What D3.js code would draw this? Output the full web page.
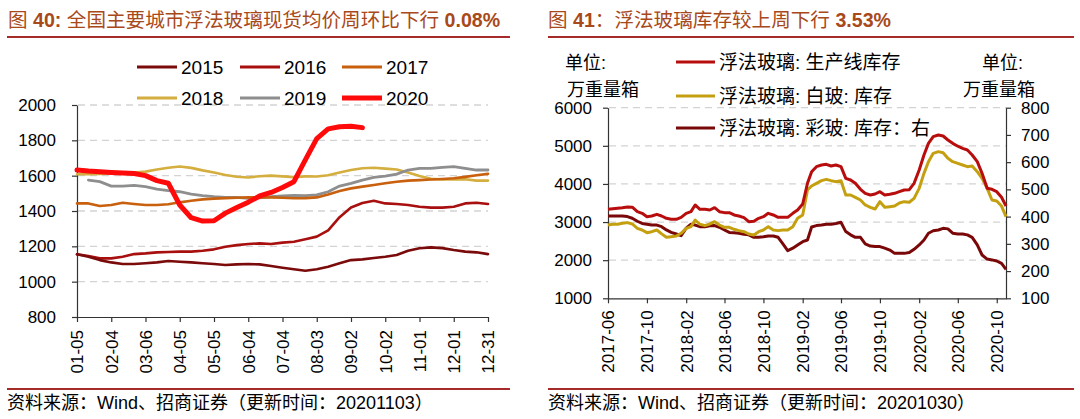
<!DOCTYPE html>
<html><head><meta charset="utf-8">
<script src="https://cdn.jsdelivr.net/npm/d3@7"></script>
<style>
body{margin:0;background:#fff;}
svg{display:block;font-family:"Liberation Sans","Noto Sans CJK SC",sans-serif;}
</style></head><body>
<svg id="c" width="1080" height="419"></svg>
<script>
// ---------- LEFT CHART DATA (day of year, every 10 days) ----------
const leftDays = [5,15,25,35,45,55,65,75,85,95,105,115,125,135,145,155,165,175,185,195,205,215,225,235,245,255,265,275,285,295,305,315,325,335,345,355,365];
const leftTickDays = [5,35,65,95,125,155,185,215,245,275,305,335,365];
const leftTickLabels = ["01-05","02-04","03-06","04-05","05-05","06-04","07-04","08-03","09-02","10-02","11-01","12-01","12-31"];
const leftYTicks = [800,1000,1200,1400,1600,1800,2000];
const yearNames = ["2015","2016","2017","2018","2019","2020"];
const price2015 = [1155,1141,1122,1109,1100,1100,1104,1109,1117,1113,1109,1104,1100,1094,1098,1100,1098,1089,1079,1070,1062,1070,1085,1104,1122,1126,1134,1141,1151,1175,1189,1194,1190,1179,1170,1166,1156];
const price2016 = [1155,1145,1132,1132,1141,1156,1160,1166,1168,1170,1170,1175,1183,1198,1207,1213,1217,1213,1221,1226,1240,1255,1290,1365,1420,1445,1458,1443,1440,1434,1424,1419,1419,1424,1443,1447,1440];
const price2017 = [1443,1443,1428,1434,1447,1440,1434,1434,1438,1449,1458,1466,1470,1473,1475,1477,1477,1477,1475,1472,1473,1477,1494,1513,1528,1538,1547,1557,1566,1572,1575,1578,1581,1585,1593,1602,1610];
const price2018 = [1608,1608,1610,1612,1615,1618,1623,1635,1645,1652,1644,1630,1618,1604,1594,1590,1597,1600,1596,1592,1596,1595,1602,1618,1632,1642,1645,1640,1635,1618,1598,1582,1578,1578,1580,1572,1572];
const price2019 = [null,1575,1566,1541,1541,1545,1538,1524,1515,1509,1496,1487,1481,1477,1477,1472,1475,1481,1485,1489,1487,1491,1509,1541,1556,1575,1590,1598,1609,1632,1641,1641,1647,1651,1641,1632,1632];
const price2020 = [1632,1626,1622,1618,1615,1612,1600,1572,1557,1434,1362,1343,1345,1388,1420,1450,1485,1505,1533,1566,1689,1810,1865,1877,1880,1872,null,null,null,null,null,null,null,null,null,null,null];

// ---------- RIGHT CHART DATA (semi-monthly) ----------
const rightDates = [
 "2017-06-01","2017-06-16","2017-07-01","2017-07-16","2017-08-01","2017-08-16","2017-09-01","2017-09-16","2017-10-01","2017-10-16","2017-11-01","2017-11-16","2017-12-01","2017-12-16",
 "2018-01-01","2018-01-16","2018-02-01","2018-02-16","2018-03-01","2018-03-16","2018-04-01","2018-04-16","2018-05-01","2018-05-16","2018-06-01","2018-06-16","2018-07-01","2018-07-16","2018-08-01","2018-08-16","2018-09-01","2018-09-16","2018-10-01","2018-10-16","2018-11-01","2018-11-16","2018-12-01","2018-12-16",
 "2019-01-01","2019-01-16","2019-02-01","2019-02-16","2019-03-01","2019-03-16","2019-04-01","2019-04-16","2019-05-01","2019-05-16","2019-06-01","2019-06-16","2019-07-01","2019-07-16","2019-08-01","2019-08-16","2019-09-01","2019-09-16","2019-10-01","2019-10-16","2019-11-01","2019-11-16","2019-12-01","2019-12-16",
 "2020-01-01","2020-01-16","2020-02-01","2020-02-16","2020-03-01","2020-03-16","2020-04-01","2020-04-16","2020-05-01","2020-05-16","2020-06-01","2020-06-16","2020-07-01","2020-07-16","2020-08-01","2020-08-16","2020-09-01","2020-09-16","2020-10-01","2020-10-16","2020-10-30"];
const prodStock = [3334,3352,3365,3378,3395,3390,3273,3229,3142,3159,
 3203,3159,3098,3072,3072,3124,3229,3273,3448,3334,
 3334,3317,3378,3273,3247,3247,3186,3159,3116,3011,
 3020,3098,3142,3229,3186,3124,3124,3124,3229,3317,
 3474,4016,4322,4453,4497,4514,4471,4497,4453,4147,
 4104,4016,3859,3754,3710,3736,3797,3710,3728,3754,
 3800,3841,3850,4016,4366,4759,5065,5240,5284,5258,
 5153,5065,4990,4934,4890,4759,4584,4278,3885,3859,
 3797,3650,3422];
const whiteStock = [2923,2941,2941,2967,2985,2950,2836,2792,2722,2748,
 2792,2690,2600,2617,2635,2705,2836,2880,3054,2941,
 2906,2950,3011,2923,2862,2862,2810,2775,2748,2687,
 2661,2748,2792,2880,2792,2775,2792,2792,2880,3098,
 3186,3841,3946,4016,4086,4121,4086,4060,4086,3710,
 3710,3649,3579,3448,3387,3343,3535,3387,3404,3422,
 3500,3535,3520,3623,3885,4278,4584,4803,4847,4820,
 4672,4584,4541,4497,4453,4471,4322,4147,3885,3579,
 3553,3420,3142];
const colorStock = [402,402,402,402,400,394,383,375,372,369,
 369,363,351,342,336,330,358,372,369,363,
 363,366,367,361,351,342,341,339,335,333,
 324,324,326,329,329,324,300,275,284,296,
 308,314,362,367,369,372,372,375,379,345,
 333,324,324,300,292,290,290,284,277,265,
 265,265,268,280,296,314,339,348,351,357,
 355,339,336,336,333,324,296,259,244,241,
 237,228,206];
const rightTickDates = ["2017-06-01","2017-10-01","2018-02-01","2018-06-01","2018-10-01","2019-02-01","2019-06-01","2019-10-01","2020-02-01","2020-06-01","2020-10-01"];
const rightLeftTicks = [1000,2000,3000,4000,5000,6000];
const rightRightTicks = [100,200,300,400,500,600,700,800];
const rightSeriesNames = ["浮法玻璃: 生产线库存","浮法玻璃: 白玻: 库存","浮法玻璃: 彩玻: 库存：右"];

// ---------- DRAW ----------
const svg = d3.select("#c");
const titleColor = "#A8491B";
const ruleColor = "#A52A2A";
const gridColor = "#D3D3D3";
const axisColor = "#333";
const fmt = d3.format("d");

function title(x, parts){
  const t = svg.append("text").attr("x",x).attr("y",27).attr("fill",titleColor).attr("font-size",19.6);
  parts.forEach(p=>t.append("tspan").attr("font-weight",p[1]?"bold":"normal").text(p[0]));
}
title(8, [["图 ",false],["40: ",true],["全国主要城市浮法玻璃现货均价周环比下行 ",false],["0.08%",true]]);
title(548, [["图 ",false],["41",true],["：浮法玻璃库存较上周下行 ",false],["3.53%",true]]);

[[7,510],[548,1074]].forEach(([a,b])=>{
  svg.append("line").attr("x1",a).attr("x2",b).attr("y1",37).attr("y2",37).attr("stroke",ruleColor).attr("stroke-width",2);
  svg.append("line").attr("x1",a).attr("x2",b).attr("y1",389).attr("y2",389).attr("stroke",ruleColor).attr("stroke-width",2);
});
svg.append("text").attr("x",7).attr("y",409).attr("font-size",18).attr("fill","#000").text("资料来源：Wind、招商证券（更新时间：20201103）");
svg.append("text").attr("x",548).attr("y",409).attr("font-size",18).attr("fill","#000").text("资料来源：Wind、招商证券（更新时间：20201030）");

function styleAxis(g){
  g.select(".domain").attr("stroke",axisColor).attr("stroke-width",1.2);
  g.selectAll(".tick line").attr("stroke",axisColor).attr("stroke-width",1.2);
  g.selectAll("text").attr("fill","#000").attr("font-size",17).attr("font-family",'"Liberation Sans",sans-serif');
}

// ===== Left chart =====
const xL = d3.scaleLinear().domain([5,365]).range([77,488]);
const yL = d3.scaleLinear().domain([800,2000]).range([317,105]);
svg.append("g").selectAll("line").data(leftYTicks.slice(1)).join("line")
  .attr("x1",78).attr("x2",488).attr("y1",d=>yL(d)).attr("y2",d=>yL(d))
  .attr("stroke",gridColor).attr("stroke-width",1.3).attr("stroke-dasharray","7,5");
const gLy = svg.append("g").attr("transform","translate(77,0)")
  .call(d3.axisLeft(yL).tickValues(leftYTicks).tickFormat(fmt).tickSize(5).tickSizeOuter(0).tickPadding(16));
styleAxis(gLy);
const gLx = svg.append("g").attr("transform","translate(0,317)")
  .call(d3.axisBottom(xL).tickValues(leftTickDays).tickFormat((d,i)=>leftTickLabels[i]).tickSize(5).tickSizeOuter(0));
styleAxis(gLx);
gLx.selectAll("text").attr("transform","rotate(-90)").attr("text-anchor","end").attr("x",-13).attr("y",0).attr("dy","0.35em");

const leftSeries = [price2015,price2016,price2017,price2018,price2019,price2020];
const leftColors = ["#7B0A0A","#A80F0F","#C8600E","#D4AE3E","#8E8E8E","#FF0A0A"];
const leftWidths = [2.6,2.6,2.6,2.6,2.8,5];
const lineL = d3.line().defined(d=>d!=null).x((d,i)=>xL(leftDays[i])).y(d=>yL(d));
[3,4,2,1,0,5].forEach(k=>{
  svg.append("path").datum(leftSeries[k]).attr("d",lineL).attr("fill","none")
    .attr("stroke",leftColors[k]).attr("stroke-width",leftWidths[k]).attr("stroke-linejoin","round").attr("stroke-linecap","round");
});
// legend
const legCols = [137,240,342];
const legRows = [67,98];
yearNames.forEach((n,k)=>{
  const cx = legCols[k%3], cy = legRows[Math.floor(k/3)];
  svg.append("line").attr("x1",cx).attr("x2",cx+40).attr("y1",cy).attr("y2",cy)
    .attr("stroke",leftColors[k]).attr("stroke-width",k===5?5:3);
  svg.append("text").attr("x",cx+44).attr("y",cy).attr("dy","0.36em").attr("font-size",19).attr("fill","#000").text(n);
});

// ===== Right chart =====
const parse = d3.timeParse("%Y-%m-%d");
const rDates = rightDates.map(parse);
const xR = d3.scaleTime().domain([parse("2017-06-01"),parse("2020-10-30")]).range([608,1006]);
const yRL = d3.scaleLinear().domain([1000,6000]).range([298.3,107.7]);
const yRR = d3.scaleLinear().domain([100,800]).range([298.3,107.7]);
svg.append("g").selectAll("line").data(rightLeftTicks.slice(1)).join("line")
  .attr("x1",609).attr("x2",1006).attr("y1",d=>yRL(d)).attr("y2",d=>yRL(d))
  .attr("stroke",gridColor).attr("stroke-width",1.3).attr("stroke-dasharray","7,5");
const gRl = svg.append("g").attr("transform","translate(608,0)")
  .call(d3.axisLeft(yRL).tickValues(rightLeftTicks).tickFormat(fmt).tickSize(5).tickSizeOuter(0).tickPadding(11));
styleAxis(gRl);
const gRr = svg.append("g").attr("transform","translate(1006,0)")
  .call(d3.axisRight(yRR).tickValues(rightRightTicks).tickFormat(fmt).tickSize(5).tickSizeOuter(0).tickPadding(10));
styleAxis(gRr);
const gRx = svg.append("g").attr("transform","translate(0,298.3)")
  .call(d3.axisBottom(xR).tickValues(rightTickDates.map(parse)).tickFormat(d3.timeFormat("%Y-%m")).tickSize(5).tickSizeOuter(0));
styleAxis(gRx);
gRx.selectAll("text").attr("transform","rotate(-90)").attr("text-anchor","end").attr("x",-12).attr("y",0).attr("dy","0.35em");

const rightColors = ["#B80D0D","#C4A010","#7A0808"];
const lineRL = d3.line().x((d,i)=>xR(rDates[i])).y(d=>yRL(d));
const lineRR = d3.line().x((d,i)=>xR(rDates[i])).y(d=>yRR(d));
svg.append("path").datum(colorStock).attr("d",lineRR).attr("fill","none").attr("stroke",rightColors[2]).attr("stroke-width",3).attr("stroke-linejoin","round");
svg.append("path").datum(whiteStock).attr("d",lineRL).attr("fill","none").attr("stroke",rightColors[1]).attr("stroke-width",3).attr("stroke-linejoin","round");
svg.append("path").datum(prodStock).attr("d",lineRL).attr("fill","none").attr("stroke",rightColors[0]).attr("stroke-width",3).attr("stroke-linejoin","round");

// units
[[565,69,"单位:"],[567,96,"万重量箱"],[982,69,"单位:"],[963,96,"万重量箱"]].forEach(u=>{
  svg.append("text").attr("x",u[0]).attr("y",u[1]).attr("font-size",18).attr("fill","#000").text(u[2]);
});
// legend
[62,96,128].forEach((cy,k)=>{
  svg.append("line").attr("x1",676).attr("x2",715).attr("y1",cy).attr("y2",cy).attr("stroke",rightColors[k]).attr("stroke-width",3);
  svg.append("text").attr("x",719).attr("y",cy).attr("dy","0.36em").attr("font-size",19).attr("fill","#000").text(rightSeriesNames[k]);
});
</script>
</body></html>
